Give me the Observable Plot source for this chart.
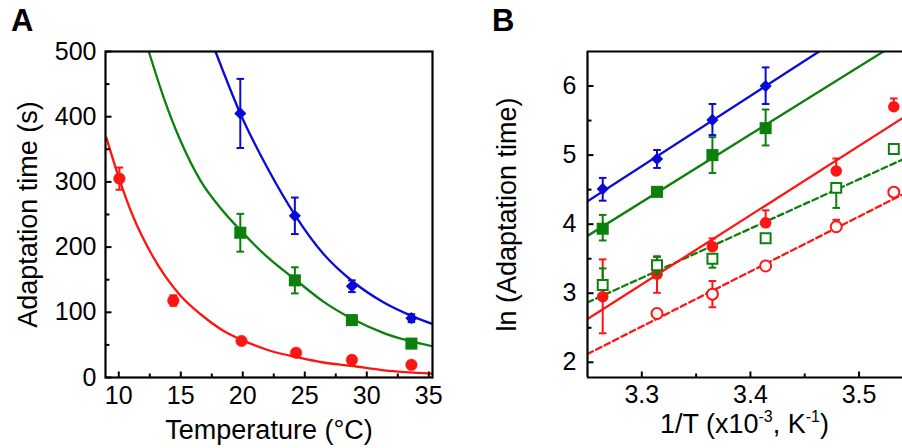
<!DOCTYPE html>
<html><head><meta charset="utf-8">
<script src="https://cdn.jsdelivr.net/npm/d3@7"></script>
<script src="https://cdn.jsdelivr.net/npm/@observablehq/plot@0.6"></script>
<style>
body{margin:0;background:#fff;overflow:hidden;font-family:"Liberation Sans",Arial,sans-serif;}
#wrap{position:relative;width:902px;height:448px;overflow:hidden;}
#a,#b{position:absolute;top:0;}
#a{left:0}#b{left:451px}
.letter{position:absolute;font-weight:bold;font-size:31px;top:5px;line-height:1;}
#bx{position:absolute;left:587px;width:315px;text-align:center;top:411px;font-size:27px;line-height:1;white-space:nowrap;}
#bx sup{font-size:16px;vertical-align:0;position:relative;top:-11px;}
svg [aria-label$="axis label"]{font-size:27px;}
</style></head><body>
<div id="wrap">
<div id="a"></div><div id="b"></div>
<div class="letter" style="left:11px">A</div>
<div class="letter" style="left:492px">B</div>
<div id="bx">1/T (x10<sup>-3</sup>, K<sup>-1</sup>)</div>
</div>
<script>
// ---------- Panel A data ----------
const aTemp = [10.05, 14.4, 19.9, 24.3, 28.8, 33.6];
const aRed = [305, 118, 56, 38, 27, 19.5];
const aRedErr = [17, 8, 0, 0, 0, 0];
const aTemp4 = [19.8, 24.2, 28.8, 33.6];
const aBlue = [405, 248, 140, 91];
const aBlueErr = [53, 28, 9, 6];
const aGreen = [222, 149, 88, 52];
const aGreenErr = [29, 20, 4, 3];
// fitted curves
const fitRedT = [9.0, 10.05, 11.2, 12.56, 15, 16.6, 18.5, 20, 22.2, 24.4, 26.5, 28.7, 31.4, 35.3];
const fitRedV = [368, 304, 245, 192, 125, 97, 71, 57, 41, 31, 23, 18, 11, 6];
const fitGreenT = [12.42, 13.63, 14.98, 16.59, 18.2, 19.8, 21.97, 24.25, 26.53, 28.82, 31.37, 35.3];
const fitGreenV = [500, 429, 363, 302, 260, 226, 185, 150, 116, 90, 68, 48];
const fitBlueT = [17.8, 19.8, 21.97, 24.25, 26.53, 28.82, 31.37, 33.6, 35.3];
const fitBlueV = [500, 405, 322, 248, 189, 148, 115, 94.6, 82];
const aXTicks = [10, 15, 20, 25, 30, 35];
const aXMinor = [12.5, 17.5, 22.5, 27.5, 32.5];
const aYTicks = [0, 100, 200, 300, 400, 500];
const aYMinor = [50, 150, 250, 350, 450];
const aXDomain = [8.93, 35.3];
const aYDomain = [0, 500];

// ---------- Panel B data ----------
const bInvT = [3.264, 3.314, 3.365, 3.414, 3.479, 3.532];
const bBlue = [4.51, 4.944, 5.51, 6.0];
const bBlueUp = [0.16, 0.13, 0.23, 0.27];
const bBlueDn = [0.17, 0.13, 0.22, 0.26];
const bGreen = [3.934, 4.468, 5.0, 5.39];
const bGreenUp = [0.2, 0, 0.26, 0.27];
const bGreenDn = [0.17, 0, 0.26, 0.25];
const bRed = [2.95, 3.276, 3.674, 4.02, 4.77, 5.70];
const bRedUp = [0.54, 0.26, 0.12, 0.18, 0.18, 0.12];
const bRedDn = [0.53, 0.27, 0, 0, 0, 0];
const bGreenOpen = [3.12, 3.405, 3.50, 3.795, 4.525, 5.088];
const bGreenOpenUp = [0.24, 0.12, 0, 0, 0, 0];
const bGreenOpenDn = [0, 0.13, 0.13, 0, 0.29, 0];
const bRedOpenX = [3.314, 3.365, 3.414, 3.479, 3.532];
const bRedOpen = [2.707, 2.987, 3.395, 3.963, 4.463];
const bRedOpenUp = [0, 0.19, 0, 0.1, 0];
const bRedOpenDn = [0, 0.19, 0, 0, 0];
// fitted straight lines (visible endpoints)
const lineBlueX = [3.25, 3.4632], lineBlueY = [4.33, 6.5];
const lineGreenX = [3.25, 3.5224], lineGreenY = [3.83, 6.5];
const lineRedX = [3.25, 3.54], lineRedY = [2.626, 5.535];
const lineGreenDashX = [3.25, 3.54], lineGreenDashY = [2.866, 4.935];
const lineRedDashX = [3.25, 3.54], lineRedDashY = [2.12, 4.43];
const bXTicks = [3.3, 3.4, 3.5];
const bXMinor = [3.35, 3.45];
const bYTicks = [2, 3, 4, 5, 6];
const bYMinor = [2.5, 3.5, 4.5, 5.5];
const bXDomain = [3.25, 3.54];
const bYDomain = [1.78, 6.5];

// ---------- styling ----------
const RED = "#ff1414", GREEN = "#0c800c", BLUE = "#0a0ad8";
const LW = 2.3;
const cap = {draw(ctx, size) { const w = Math.sqrt(size / Math.PI); ctx.moveTo(-w, 0); ctx.lineTo(w, 0); }};
// one-sided tick glyphs pointing into the frame
const tickRight = {draw(ctx, size) { const w = Math.sqrt(size / Math.PI); ctx.moveTo(0, 0); ctx.lineTo(w, 0); }};
const tickUp = {draw(ctx, size) { const w = Math.sqrt(size / Math.PI); ctx.moveTo(0, 0); ctx.lineTo(0, -w); }};

function rows(xs, ys, up, dn) {
  return ys.map((y, i) => ({x: xs[i], y, up: up ? up[i] : 0, dn: dn ? dn[i] : 0}));
}
function errMarks(data, color) {
  return [
    Plot.ruleX(data.filter(d => d.up > 0 || d.dn > 0), {x: "x", y1: d => d.y - d.dn, y2: d => d.y + d.up, stroke: color, strokeWidth: 2}),
    Plot.dot(data.filter(d => d.up > 0), {x: "x", y: d => d.y + d.up, symbol: cap, r: 3.8, stroke: color, strokeWidth: 2, fill: "none"}),
    Plot.dot(data.filter(d => d.dn > 0), {x: "x", y: d => d.y - d.dn, symbol: cap, r: 3.8, stroke: color, strokeWidth: 2, fill: "none"})
  ];
}
function pairs(xs, ys) { return xs.map((x, i) => ({x, y: ys[i]})); }
function inwardTicks(xTicks, xMinor, yTicks, yMinor, xDom, yDom) {
  const st = {stroke: "black", strokeWidth: 2, fill: "none", strokeLinecap: "butt"};
  return [
    Plot.dot(yTicks, {x: () => xDom[0], y: d => d, symbol: tickRight, r: 6, ...st}),
    Plot.dot(yMinor, {x: () => xDom[0], y: d => d, symbol: tickRight, r: 4, ...st}),
    Plot.dot(xTicks, {x: d => d, y: () => yDom[0], symbol: tickUp, r: 6, ...st}),
    Plot.dot(xMinor, {x: d => d, y: () => yDom[0], symbol: tickUp, r: 4, ...st})
  ];
}

const tickFont = {fontSize: 25, fontFamily: "Liberation Sans, Arial, sans-serif"};

// ---------- Panel A ----------
const redA = rows(aTemp, aRed, aRedErr, aRedErr);
const blueA = rows(aTemp4, aBlue, aBlueErr, aBlueErr);
const greenA = rows(aTemp4, aGreen, aGreenErr, aGreenErr);

const plotA = Plot.plot({
  width: 451, height: 448,
  marginLeft: 105, marginRight: 19, marginTop: 51, marginBottom: 71,
  style: {fontFamily: "Liberation Sans, Arial, sans-serif", background: "white", overflow: "visible"},
  x: {domain: aXDomain},
  y: {domain: aYDomain},
  marks: [
    Plot.line(pairs(fitRedT, fitRedV), {x: "x", y: "y", stroke: RED, strokeWidth: LW, curve: "monotone-x", clip: true}),
    Plot.line(pairs(fitGreenT, fitGreenV), {x: "x", y: "y", stroke: GREEN, strokeWidth: LW, curve: "monotone-x", clip: true}),
    Plot.line(pairs(fitBlueT, fitBlueV), {x: "x", y: "y", stroke: BLUE, strokeWidth: LW, curve: "monotone-x", clip: true}),
    ...errMarks(redA, RED),
    Plot.dot(redA, {x: "x", y: "y", r: 5.8, fill: RED, stroke: RED, strokeWidth: 0.5}),
    ...errMarks(greenA, GREEN),
    Plot.dot(greenA, {x: "x", y: "y", symbol: "square", r: 6.8, fill: GREEN}),
    ...errMarks(blueA, BLUE),
    Plot.dot(blueA, {x: "x", y: "y", symbol: "diamond2", r: 5.5, fill: BLUE}),
    ...inwardTicks(aXTicks, aXMinor, aYTicks, aYMinor, aXDomain, aYDomain),
    Plot.axisY(aYTicks, {...tickFont, tickSize: 0, tickPadding: 9,
      label: "Adaptation time (s)", labelAnchor: "center", labelArrow: "none", labelOffset: 88}),
    Plot.axisX(aXTicks, {...tickFont, tickSize: 0, tickPadding: 9,
      label: "Temperature (°C)", labelAnchor: "center", labelArrow: "none", labelOffset: 61}),
    Plot.frame({stroke: "black", strokeWidth: 2.2})
  ]
});
document.getElementById("a").append(plotA);

// ---------- Panel B ----------
const blueB = rows(bInvT, bBlue, bBlueUp, bBlueDn);
const greenB = rows(bInvT, bGreen, bGreenUp, bGreenDn);
const redB = rows(bInvT, bRed, bRedUp, bRedDn);
const greenOpenB = rows(bInvT, bGreenOpen, bGreenOpenUp, bGreenOpenDn);
const redOpenB = rows(bRedOpenX, bRedOpen, bRedOpenUp, bRedOpenDn);

const plotB = Plot.plot({
  width: 451, height: 448,
  marginLeft: 136, marginRight: 0, marginTop: 51, marginBottom: 71,
  style: {fontFamily: "Liberation Sans, Arial, sans-serif", background: "white", overflow: "visible"},
  x: {domain: bXDomain},
  y: {domain: bYDomain},
  marks: [
    Plot.line(pairs(lineRedDashX, lineRedDashY), {x: "x", y: "y", stroke: RED, strokeWidth: LW, strokeDasharray: "6,3.5", clip: true}),
    Plot.line(pairs(lineGreenDashX, lineGreenDashY), {x: "x", y: "y", stroke: GREEN, strokeWidth: LW, strokeDasharray: "6,3.5", clip: true}),
    Plot.line(pairs(lineRedX, lineRedY), {x: "x", y: "y", stroke: RED, strokeWidth: LW, clip: true}),
    Plot.line(pairs(lineGreenX, lineGreenY), {x: "x", y: "y", stroke: GREEN, strokeWidth: LW, clip: true}),
    Plot.line(pairs(lineBlueX, lineBlueY), {x: "x", y: "y", stroke: BLUE, strokeWidth: LW, clip: true}),
    ...errMarks(redOpenB, RED),
    Plot.dot(redOpenB, {x: "x", y: "y", r: 5.5, fill: "white", stroke: RED, strokeWidth: 2}),
    ...errMarks(redB, RED),
    Plot.dot(redB, {x: "x", y: "y", r: 5.8, fill: RED}),
    ...errMarks(greenOpenB, GREEN),
    Plot.dot(greenOpenB, {x: "x", y: "y", symbol: "square", r: 5.6, fill: "white", stroke: GREEN, strokeWidth: 2}),
    ...errMarks(greenB, GREEN),
    Plot.dot(greenB, {x: "x", y: "y", symbol: "square", r: 6.8, fill: GREEN}),
    ...errMarks(blueB, BLUE),
    Plot.dot(blueB, {x: "x", y: "y", symbol: "diamond2", r: 5.5, fill: BLUE}),
    ...inwardTicks(bXTicks, bXMinor, bYTicks, bYMinor, bXDomain, bYDomain),
    Plot.axisY(bYTicks, {...tickFont, tickSize: 0, tickPadding: 11, tickFormat: d3.format("d"),
      label: "ln (Adaptation time)", labelAnchor: "center", labelArrow: "none", labelOffset: 91}),
    Plot.axisX(bXTicks, {...tickFont, tickSize: 0, tickPadding: 8, tickFormat: d3.format(".1f"), label: null}),
    Plot.ruleX([bXDomain[0]], {stroke: "black", strokeWidth: 2.2}),
    Plot.ruleY(bYDomain, {stroke: "black", strokeWidth: 2.2})
  ]
});
document.getElementById("b").append(plotB);
</script>
</body></html>
